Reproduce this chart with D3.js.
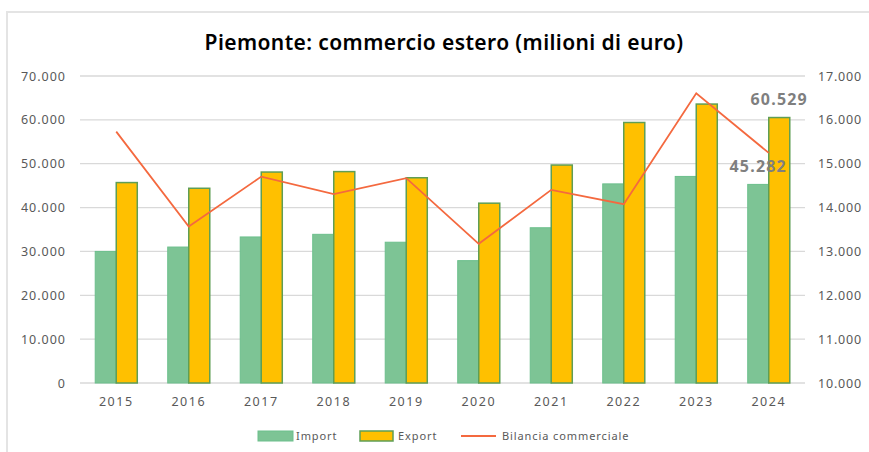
<!DOCTYPE html>
<html>
<head>
<meta charset="utf-8">
<script src="https://cdn.jsdelivr.net/npm/d3@7"></script>
<style>
  html, body { margin: 0; padding: 0; background: #fff; }
  svg { display: block; }
</style>
</head>
<body>
<svg id="chart" width="869" height="452"></svg>
<script>
const years = ["2015","2016","2017","2018","2019","2020","2021","2022","2023","2024"];
const importValues = [30000, 31000, 33300, 33900, 32100, 27900, 35400, 45400, 47100, 45282];
const exportValues = [45700, 44400, 48100, 48200, 46800, 41000, 49700, 59400, 63600, 60529];
const balanceValues = [15731, 13567, 14706, 14305, 14670, 13173, 14404, 14077, 16606, 15247];
const leftTicks = [0, 10000, 20000, 30000, 40000, 50000, 60000, 70000];
const rightTicks = [10000, 11000, 12000, 13000, 14000, 15000, 16000, 17000];
const seriesNames = ["Import", "Export", "Bilancia commerciale"];
const titleText = "Piemonte: commercio estero (milioni di euro)";

const fmt = v => d3.format(",")(v).replace(/,/g, ".");

const svg = d3.select("#chart");
const W = 869, H = 452;
const m = { left: 80, right: 805, top: 76, bottom: 383 };

const fontMain = "'Noto Sans', 'DejaVu Sans', sans-serif";

// Chart frame
svg.append("path")
  .attr("d", `M7,${H} L7,12 L${W},12`)
  .attr("fill", "none").attr("stroke", "#e4e4e4").attr("stroke-width", 2);

const x = d3.scaleBand().domain(years).range([m.left, m.right]).paddingInner(0.42).paddingOuter(0.21);
const yL = d3.scaleLinear().domain([0, 70000]).range([m.bottom, m.top]);
const yR = d3.scaleLinear().domain([10000, 17000]).range([m.bottom, m.top]);
const xc = d3.scaleBand().domain(years).range([m.left, m.right]);

// grid
svg.append("g").selectAll("line").data(leftTicks).join("line")
  .attr("x1", m.left).attr("x2", m.right)
  .attr("y1", d => yL(d)).attr("y2", d => yL(d))
  .attr("stroke", "#d9d9d9").attr("stroke-width", 1.3);

// left axis
const axL = svg.append("g").attr("transform", `translate(${m.left},0)`)
  .call(d3.axisLeft(yL).tickValues(leftTicks).tickFormat(fmt).tickSize(0).tickPadding(14));
axL.select(".domain").remove();
axL.selectAll("text").attr("fill", "#595959").attr("font-size", 12.5)
  .attr("font-family", fontMain).attr("letter-spacing", "1px");

// right axis
const axR = svg.append("g").attr("transform", `translate(${m.right},0)`)
  .call(d3.axisRight(yR).tickValues(rightTicks).tickFormat(fmt).tickSize(0).tickPadding(13));
axR.select(".domain").remove();
axR.selectAll("text").attr("fill", "#595959").attr("font-size", 12.5)
  .attr("font-family", fontMain).attr("letter-spacing", "0.8px");

// x axis
const axX = svg.append("g").attr("transform", `translate(0,${m.bottom})`)
  .call(d3.axisBottom(xc).tickSize(0).tickPadding(14));
axX.select(".domain").remove();
axX.selectAll("text").attr("fill", "#595959").attr("font-size", 12.5)
  .attr("font-family", fontMain).attr("letter-spacing", "1.5px");

// bars
const bw = x.bandwidth() / 2;
const gBars = svg.append("g");
gBars.selectAll("rect.imp").data(years).join("rect").attr("class", "imp")
  .attr("x", d => x(d)).attr("width", bw)
  .attr("y", (d, i) => yL(importValues[i]))
  .attr("height", (d, i) => yL(0) - yL(importValues[i]))
  .attr("fill", "#7dc495").attr("stroke", "#6cbf8c").attr("stroke-width", 1);
gBars.selectAll("rect.exp").data(years).join("rect").attr("class", "exp")
  .attr("x", d => x(d) + bw).attr("width", bw)
  .attr("y", (d, i) => yL(exportValues[i]))
  .attr("height", (d, i) => yL(0) - yL(exportValues[i]))
  .attr("fill", "#ffc000").attr("stroke", "#5f9e55").attr("stroke-width", 1.5);

// line
const line = d3.line().x((d, i) => xc(years[i]) + xc.bandwidth() / 2).y(d => yR(d));
svg.append("path").datum(balanceValues).attr("d", line)
  .attr("fill", "none").attr("stroke", "#f4693f").attr("stroke-width", 1.8);

// data labels for 2024
const last = years.length - 1;
svg.append("text").attr("x", x(years[last]) + bw * 1.5).attr("y", yL(exportValues[last]) - 13)
  .attr("text-anchor", "middle").attr("font-family", fontMain).attr("font-weight", "bold")
  .attr("font-size", 16).attr("fill", "#7f7f7f").attr("letter-spacing", "1.2px")
  .text(fmt(exportValues[last]));
svg.append("text").attr("x", x(years[last]) + bw * 0.5).attr("y", yL(importValues[last]) - 12)
  .attr("text-anchor", "middle").attr("font-family", fontMain).attr("font-weight", "bold")
  .attr("font-size", 16).attr("fill", "#7f7f7f").attr("letter-spacing", "1.2px")
  .text(fmt(importValues[last]));

// title
svg.append("text").attr("x", 444).attr("y", 50).attr("text-anchor", "middle")
  .attr("font-family", fontMain).attr("font-size", 21).attr("font-weight", 600)
  .attr("letter-spacing", "0.4px")
  .attr("fill", "#000").text(titleText);

// legend
const lg = svg.append("g").attr("font-family", fontMain).attr("font-size", 11)
  .attr("fill", "#595959").attr("letter-spacing", "0.9px");
lg.append("rect").attr("x", 258).attr("y", 431).attr("width", 35).attr("height", 10)
  .attr("fill", "#7dc495").attr("stroke", "#6cbf8c");
lg.append("text").attr("x", 296).attr("y", 440).text(seriesNames[0]);
lg.append("rect").attr("x", 360).attr("y", 431).attr("width", 33).attr("height", 10)
  .attr("fill", "#ffc000").attr("stroke", "#5f9e55").attr("stroke-width", 1.5);
lg.append("text").attr("x", 398).attr("y", 440).text(seriesNames[1]);
lg.append("line").attr("x1", 461).attr("x2", 496).attr("y1", 436).attr("y2", 436)
  .attr("stroke", "#f4693f").attr("stroke-width", 1.8);
lg.append("text").attr("x", 502).attr("y", 440).text(seriesNames[2]);
</script>
</body>
</html>
